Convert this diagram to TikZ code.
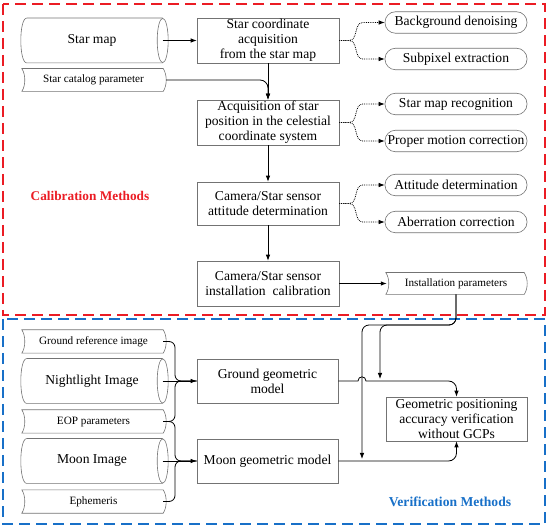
\documentclass[tikz,border=0pt]{standalone}
\usepackage{fontspec}
\setmainfont{Liberation Serif}
\usetikzlibrary{arrows.meta,calc}
\definecolor{boxgray}{RGB}{115,115,115}
\definecolor{calred}{RGB}{235,28,36}
\definecolor{verblue}{RGB}{24,112,200}
\newcommand\bxfont{\fontsize{13.6}{15}\selectfont}
\newcommand\smfont{\fontsize{11.2}{12}\selectfont}
\newcommand\drawcyl[1]{%
  \draw[shapeline] ([xshift=6pt]#1.north west) -- ([xshift=-5.5pt]#1.north east)
    ([xshift=6pt]#1.south west) -- ([xshift=-5.5pt]#1.south east)
    ([xshift=6pt]#1.north west) .. controls ([xshift=-2pt]#1.north west) and ([xshift=-2pt]#1.south west) .. ([xshift=6pt]#1.south west);
  \draw[shapeline] ([xshift=-5.5pt]#1.east) ellipse [x radius=5.5pt, y radius=22.2pt];}
\newcommand\drawtag[1]{%
  \draw[shapeline] ([xshift=1pt]#1.north west) -- ([xshift=-3pt]#1.north east)
    .. controls +(4,6) and +(4,-6) .. ([xshift=-3pt]#1.south east)
    -- ([xshift=1pt]#1.south west)
    .. controls +(4,-6) and +(4,6) .. ([xshift=1pt]#1.north west) -- cycle;}
\newcommand\dotbranch[3]{%
  \draw[dotconn] (#1.east) -- ++(10,0) to[out=0,in=180] ([xshift=-22pt]#2.west) -- (#2.west);
  \draw[dotconn] (#1.east) -- ++(10,0) to[out=0,in=180] ([xshift=-22pt]#3.west) -- (#3.west);}
\begin{document}
\begin{tikzpicture}[x=1pt,y=-1pt,
  shapeline/.style={draw=boxgray, line width=0.6pt},
  box/.style={draw=boxgray, line width=0.6pt, minimum width=142pt, minimum height=45pt, align=center, inner sep=0pt, font=\bxfont},
  pill/.style={draw=boxgray, line width=0.6pt, rounded corners=10.5pt, minimum width=142pt, minimum height=21.5pt, inner sep=0pt, font=\bxfont},
  tagnode/.style={minimum width=145pt, minimum height=22.5pt, inner sep=0pt, font=\smfont},
  cylnode/.style={minimum width=147pt, minimum height=44.5pt, inner sep=0pt, font=\bxfont},
  conn/.style={draw=black, line width=0.8pt},
  arr/.style={conn, -{Latex[length=6pt,width=4.5pt]}},
  dotconn/.style={draw=black, line width=0.8pt, densely dotted, -{Latex[length=6pt,width=4.5pt]}},
  frame/.style={line width=1.6pt, dash pattern=on 11pt off 6pt}]
\useasboundingbox (0,0) rectangle (550,532);
% frames
\draw[frame, calred] (3,4) rectangle (545,315);
\draw[frame, verblue] (3,319) rectangle (545,524);
\node[font=\fontsize{13.3}{14}\selectfont\bfseries, text=calred] (caltitle) at (90,196) {Calibration Methods};
\node[font=\fontsize{13.6}{14}\selectfont\bfseries, text=verblue] (vertitle) at (450,502) {Verification Methods};
% calibration part
\node[cylnode] (starmap) at (94.5,40.5) {\hspace*{-5pt}Star map};
\drawcyl{starmap}
\node[tagnode] (catalog) at (93.5,80) {Star catalog parameter};
\drawtag{catalog}
\node[box] (b1) at (268,40.5) {Star coordinate\\acquisition\\from the star map};
\node[box] (b2) at (268,122.5) {Acquisition of star\\position in the celestial\\coordinate system};
\node[box, minimum height=43pt] (b3) at (268,203.5) {Camera/Star sensor\\attitude determination};
\node[box] (b4) at (268,283.5) {Camera/Star sensor\\installation\ \ calibration};
\node[pill] (r1) at (456,22.5) {Background denoising};
\node[pill] (r2) at (456,59) {Subpixel extraction};
\node[pill] (r3) at (456,104) {Star map recognition};
\node[pill] (r4) at (456,141) {Proper motion correction};
\node[pill] (r5) at (456,185) {Attitude determination};
\node[pill] (r6) at (456,222) {Aberration correction};
\node[tagnode, minimum width=142pt, minimum height=21.5pt] (inst) at (456,283.5) {Installation parameters};
\drawtag{inst}
\draw[arr] ([xshift=-5.5pt]starmap.east) -- (b1.west);
\draw[arr, rounded corners=8pt] (catalog.east) -| (b2.north);
\draw[arr] (b1.south) -- (b2.north);
\draw[arr] (b2.south) -- (b3.north);
\draw[arr] (b3.south) -- (b4.north);
\draw[arr] (b4.east) -- ([xshift=2pt]inst.west);
\dotbranch{b1}{r1}{r2}
\dotbranch{b2}{r3}{r4}
\dotbranch{b3}{r5}{r6}
% verification part
\node[tagnode, minimum height=23pt] (gref) at (93.5,341.5) {Ground reference image};
\drawtag{gref}
\node[cylnode] (night) at (94.5,381) {\hspace*{-5pt}Nightlight Image};
\drawcyl{night}
\node[tagnode, minimum height=23pt] (eop) at (93.5,421.5) {EOP parameters};
\drawtag{eop}
\node[cylnode] (moon) at (94.5,461) {\hspace*{-5pt}Moon Image};
\drawcyl{moon}
\node[tagnode, minimum height=23pt] (eph) at (93.5,501.5) {Ephemeris};
\drawtag{eph}
\node[box, minimum width=141pt, minimum height=44pt] (gm) at (267.5,381) {Ground geometric\\model};
\node[box, minimum width=141pt, minimum height=44pt] (mm) at (267.5,461) {Moon geometric model};
\node[box, minimum width=141pt, minimum height=44pt] (pos) at (456.5,419) {Geometric positioning\\accuracy verification\\without GCPs};
\coordinate (jg) at (175,381);
\coordinate (jm) at (175,461);
\draw[conn, rounded corners=6pt] ([xshift=-3pt]gref.east) -| (jg) -- (gm.west);
\draw[conn, rounded corners=6pt] ([xshift=-3pt]eop.east) -| (jg) -- (gm.west);
\draw[conn, rounded corners=6pt] ([xshift=-3pt]eop.east) -| (jm) -- (mm.west);
\draw[conn, rounded corners=6pt] ([xshift=-3pt]eph.east) -| (jm) -- (mm.west);
\draw[arr] ([xshift=-5.5pt]night.east) -- (gm.west);
\draw[arr] ([xshift=-5.5pt]moon.east) -- (mm.west);
% installation parameters feed
\coordinate (ia) at (380,379);
\coordinate (ib) at (362,459);
\draw[arr, rounded corners=7pt] (inst.south) |- (380,325) -- (ia);
\draw[arr, rounded corners=7pt] (inst.south) |- (362,325) -- (ib);
% models to verification
\draw[arr] (gm.east) -- (358,381) .. controls (358,375.5) and (366,375.5) .. (366,381) [rounded corners=8pt] -| (pos.north);
\draw[arr, rounded corners=8pt] (mm.east) -| (pos.south);
\end{tikzpicture}
\end{document}
